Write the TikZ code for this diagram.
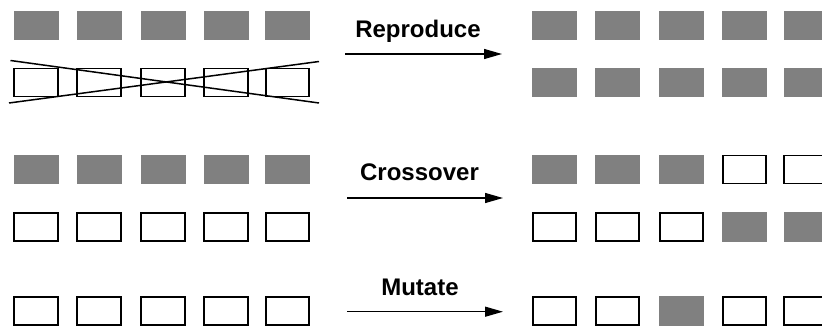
\documentclass[tikz,border=0pt]{standalone}
\usepackage{fontspec}
\setmainfont{Liberation Sans}
\usetikzlibrary{arrows.meta}
\definecolor{genegray}{HTML}{808080}
\begin{document}
\begin{tikzpicture}[x=1pt,y=-1pt,
  gene/.style={minimum width=43.5pt,minimum height=28pt,inner sep=0pt,outer sep=0pt},
  on/.style={gene,fill=genegray,minimum width=45pt,minimum height=29.5pt},
  off/.style={gene,draw=black,line width=1.7pt,fill=white},
  oplabel/.style={anchor=base,inner sep=0pt,font=\fontsize{24}{28}\selectfont\bfseries},
  oparrow/.style={line width=1.3pt,-{Triangle[length=18pt,width=10pt]}},
  strike/.style={line width=1.5pt}]
\useasboundingbox (0,0) rectangle (822,326);

% column centres of the left (parents) and right (offspring) strings
\def\lx{{36,99,163,226,287.5}}
\def\rx{{554.5,617.5,681.5,744.5,806}}

% Reproduce: parents
\foreach \i in {0,...,4} {
  \pgfmathsetmacro\x{\lx[\i]}
  \node[on]  (pa\i) at (\x,25.3) {};
  \node[off] (pb\i) at (\x,82.5) {};
}
% the discarded string is struck out
\coordinate (sa) at (10.5,60.5);
\coordinate (sb) at (319,103);
\coordinate (sc) at (9,103);
\coordinate (sd) at (319,61.5);
\draw[strike] (sa) -- (sb);
\draw[strike] (sc) -- (sd);
% Reproduce: offspring
\foreach \i in {0,...,4} {
  \pgfmathsetmacro\x{\rx[\i]}
  \node[on] (qa\i) at (\x,25.3) {};
  \node[on] (qb\i) at (\x,82.5) {};
}

% Crossover: parents
\foreach \i in {0,...,4} {
  \pgfmathsetmacro\x{\lx[\i]}
  \node[on]  (ca\i) at (\x,169.5) {};
  \node[off] (cb\i) at (\x,227) {};
}
% Crossover: offspring (split after the third gene)
\foreach \i/\s/\t in {0/on/off,1/on/off,2/on/off,3/off/on,4/off/on} {
  \pgfmathsetmacro\x{\rx[\i]}
  \node[\s] (da\i) at (\x,169.5) {};
  \node[\t] (db\i) at (\x,227) {};
}

% Mutate
\foreach \i/\t in {0/off,1/off,2/on,3/off,4/off} {
  \pgfmathsetmacro\x{\lx[\i]}
  \node[off] (ma\i) at (\x,311) {};
  \pgfmathsetmacro\x{\rx[\i]}
  \node[\t] (na\i) at (\x,311) {};
}

% operator arrows and their labels
\coordinate (r0) at (345,54);    \coordinate (r1) at (502,54);
\coordinate (c0) at (347,198);   \coordinate (c1) at (503,198);
\coordinate (m0) at (347,311.7); \coordinate (m1) at (503,311.7);
\draw[oparrow] (r0) -- (r1);
\draw[oparrow] (c0) -- (c1);
\draw[oparrow] (m0) -- (m1);
\node[oplabel] (lr) at (418,37.3) {Reproduce};
\node[oplabel] (lc) at (419.5,180.7) {Crossover};
\node[oplabel] (lm) at (420,295) {Mutate};
\end{tikzpicture}
\end{document}
